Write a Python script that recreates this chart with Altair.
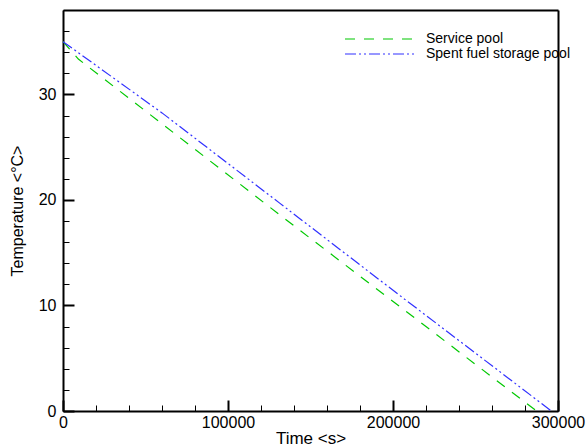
import altair as alt
import pandas as pd

# Pool temperature histories
series_names = ["Service pool", "Spent fuel storage pool"]
service_time = [0, 4000, 9300, 135800, 287000]
service_temp = [35.0, 34.3, 33.35, 18.05, 0.0]
spent_time = [0, 60000, 131300, 204000, 296000]
spent_temp = [35.0, 28.25, 19.7, 10.96, 0.0]

x_major = [0, 100000, 200000, 300000]
x_minor = list(range(0, 300001, 20000))
y_major = [0, 10, 20, 30]
y_minor = list(range(0, 39, 2))

line_colors = ["#00c800", "#3030ff"]
line_dashes = [[10, 9], [11, 3, 2, 3, 2, 3]]

W, H = 495, 401
FONT = "Liberation Sans"

rows = []
for t, v in zip(service_time, service_temp):
    rows.append({"t": t, "T": v, "series": series_names[0]})
for t, v in zip(spent_time, spent_temp):
    rows.append({"t": t, "T": v, "series": series_names[1]})
df = pd.DataFrame(rows)

xscale = alt.Scale(domain=[0, 300000], nice=False, zero=False)
yscale = alt.Scale(domain=[0, 38], nice=False, zero=False)

base = alt.Chart(df)

lines = base.mark_line(strokeWidth=1.2).encode(
    x=alt.X("t:Q", scale=xscale,
            axis=alt.Axis(values=x_major, format="d", ticks=False, grid=False, labelFlush=False,
                          domain=True, domainColor="black", domainWidth=2,
                          labelFontSize=16, labelPadding=3, labelFont=FONT, labelColor="black",
                          title="Time <s>", titleFontSize=17, titleFont=FONT, titleFontWeight="normal",
                          titleColor="black", titleBaseline="alphabetic", titleY=32)),
    y=alt.Y("T:Q", scale=yscale,
            axis=alt.Axis(values=y_major, ticks=False, grid=False, labelFlush=False,
                          domain=True, domainColor="black", domainWidth=2,
                          labelFontSize=16, labelPadding=7, labelFont=FONT, labelColor="black",
                          title="Temperature <°C>", titleFontSize=16, titleFont=FONT,
                          titleFontWeight="normal", titleColor="black",
                          titleBaseline="alphabetic", titleX=-41)),
    color=alt.Color("series:N", scale=alt.Scale(domain=series_names, range=line_colors),
                    legend=alt.Legend(title=None, orient="none", legendX=275, legendY=22,
                                      symbolType="M0,0H11.5", symbolSize=144,
                                      symbolStrokeWidth=1.2, labelOffset=74, labelFontSize=14,
                                      labelFont=FONT, labelColor="black", labelLimit=300,
                                      rowPadding=1, padding=0)),
    strokeDash=alt.StrokeDash("series:N", scale=alt.Scale(domain=series_names, range=line_dashes),
                              legend=None),
)


def tick_layer(xvals, yvals, size, width):
    # inward ticks: opposite-side axes shifted onto the bottom and left edges
    return base.mark_line(opacity=0).encode(
        x=alt.X("t:Q", scale=xscale,
                axis=alt.Axis(orient="top", offset=-H, values=xvals, labels=False, domain=False,
                              grid=False, tickSize=size, tickWidth=width, tickColor="black",
                              title=None)),
        y=alt.Y("T:Q", scale=yscale,
                axis=alt.Axis(orient="right", offset=-W, values=yvals, labels=False, domain=False,
                              grid=False, tickSize=size, tickWidth=width, tickColor="black",
                              title=None)),
        detail="series:N",
    )


# top and right edges of the frame
frame = base.mark_line(opacity=0).encode(
    x=alt.X("t:Q", scale=xscale,
            axis=alt.Axis(orient="top", values=x_major, labels=False, ticks=False, grid=False,
                          domain=True, domainColor="black", domainWidth=2, title=None)),
    y=alt.Y("T:Q", scale=yscale,
            axis=alt.Axis(orient="right", values=y_major, labels=False, ticks=False, grid=False,
                          domain=True, domainColor="black", domainWidth=2, title=None)),
    detail="series:N",
)

chart = alt.layer(
    lines,
    tick_layer(x_minor, y_minor, 6, 1),
    tick_layer(x_major, y_major, 11, 2),
    frame,
).resolve_axis(x="independent", y="independent").properties(
    width=W, height=H,
    autosize=alt.AutoSizeParams(type="none"),
    padding={"left": 63, "top": 10, "right": 30, "bottom": 35},
).configure_view(stroke="transparent").configure(background="white")

chart.save("out.html", embed_options={"renderer": "svg", "actions": False})
